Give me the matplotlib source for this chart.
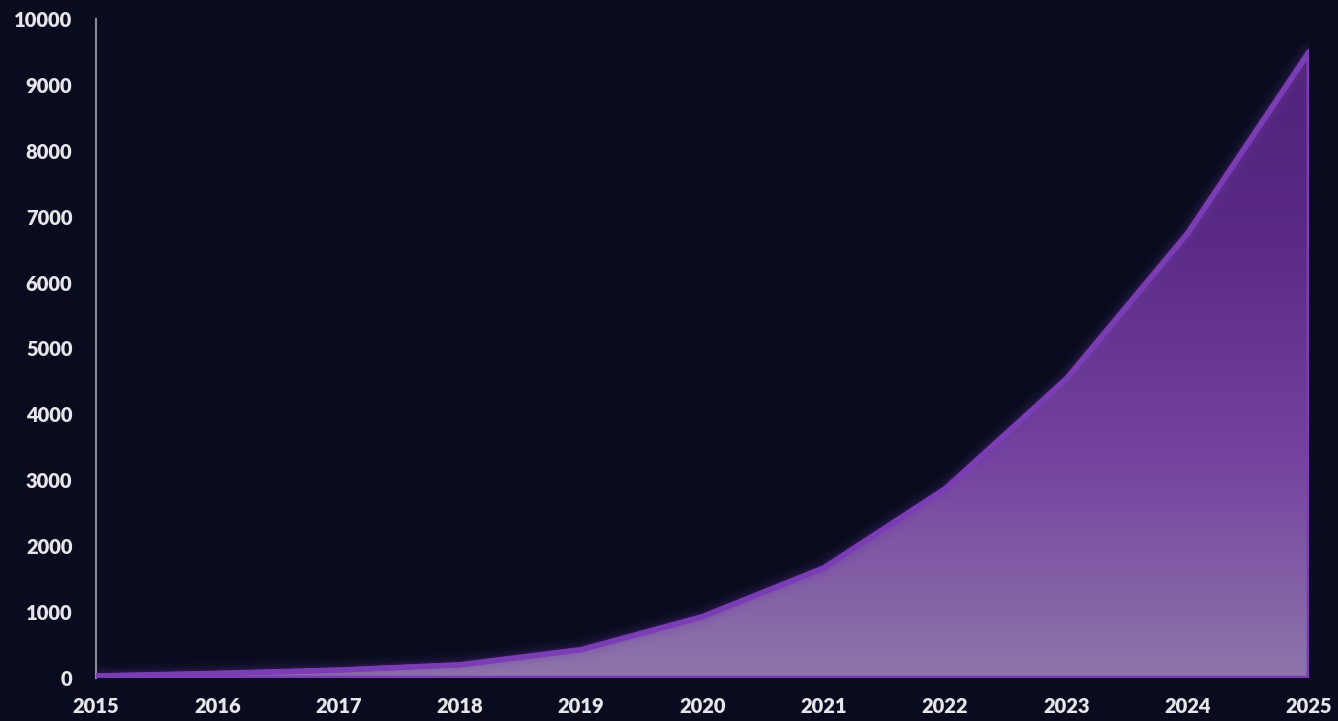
import numpy as np
import matplotlib.pyplot as plt
from matplotlib.colors import LinearSegmentedColormap
from matplotlib.patches import Polygon

years = [2015, 2016, 2017, 2018, 2019, 2020, 2021, 2022, 2023, 2024, 2025]
values = [30, 70, 120, 200, 430, 930, 1670, 2870, 4540, 6750, 9500]
yticks = [0, 1000, 2000, 3000, 4000, 5000, 6000, 7000, 8000, 9000, 10000]

bg = '#090c1f'
line_col = '#7b3db3'

plt.rcParams['font.family'] = ['Lato', 'DejaVu Sans']

fig = plt.figure(figsize=(13.38, 7.21), dpi=100, facecolor=bg)
ax = fig.add_axes([96 / 1338, 43 / 721, (1309 - 96) / 1338, (678 - 19) / 721])
ax.set_facecolor(bg)

ax.set_xlim(years[0], years[-1])
ax.set_ylim(0, 10000)

# gradient fill clipped to the area polygon
cmap = LinearSegmentedColormap.from_list('grad', ['#8e75aa', '#74439f', '#5a2a86', '#4f2279'])
grad = np.linspace(0, 1, 256).reshape(-1, 1)
img = ax.imshow(grad, cmap=cmap, aspect='auto', origin='lower',
                extent=[years[0], years[-1], 0, 10000], zorder=1)
verts = [(years[0], 0)] + list(zip(years, values)) + [(years[-1], 0)]
poly = Polygon(verts, closed=True, facecolor='none', edgecolor='none')
ax.add_patch(poly)
img.set_clip_path(poly)

# glow
for lw, a in [(16, 0.05), (11, 0.08), (7, 0.12)]:
    ax.plot(years, values, color='#7b3db3', lw=lw, alpha=a, solid_capstyle='round', zorder=2)

edge = Polygon(verts, closed=True, facecolor='none', edgecolor=line_col, lw=3.5,
               joinstyle='round', zorder=3)
ax.add_patch(edge)
ax.plot(years, values, color=line_col, lw=4, solid_capstyle='round', zorder=4)

ax.set_xticks(years)
ax.set_yticks(yticks)
ax.tick_params(length=0, colors='#e6e6ea', labelsize=14.5)
ax.tick_params(axis='x', pad=14)
ax.tick_params(axis='y', pad=17)
for lab in ax.get_xticklabels() + ax.get_yticklabels():
    lab.set_fontweight('heavy')

for s in ['top', 'right', 'bottom']:
    ax.spines[s].set_visible(False)
ax.spines['left'].set_color('#8a8a98')
ax.spines['left'].set_linewidth(1.5)

fig.savefig('out.png', dpi=100, facecolor=bg)
